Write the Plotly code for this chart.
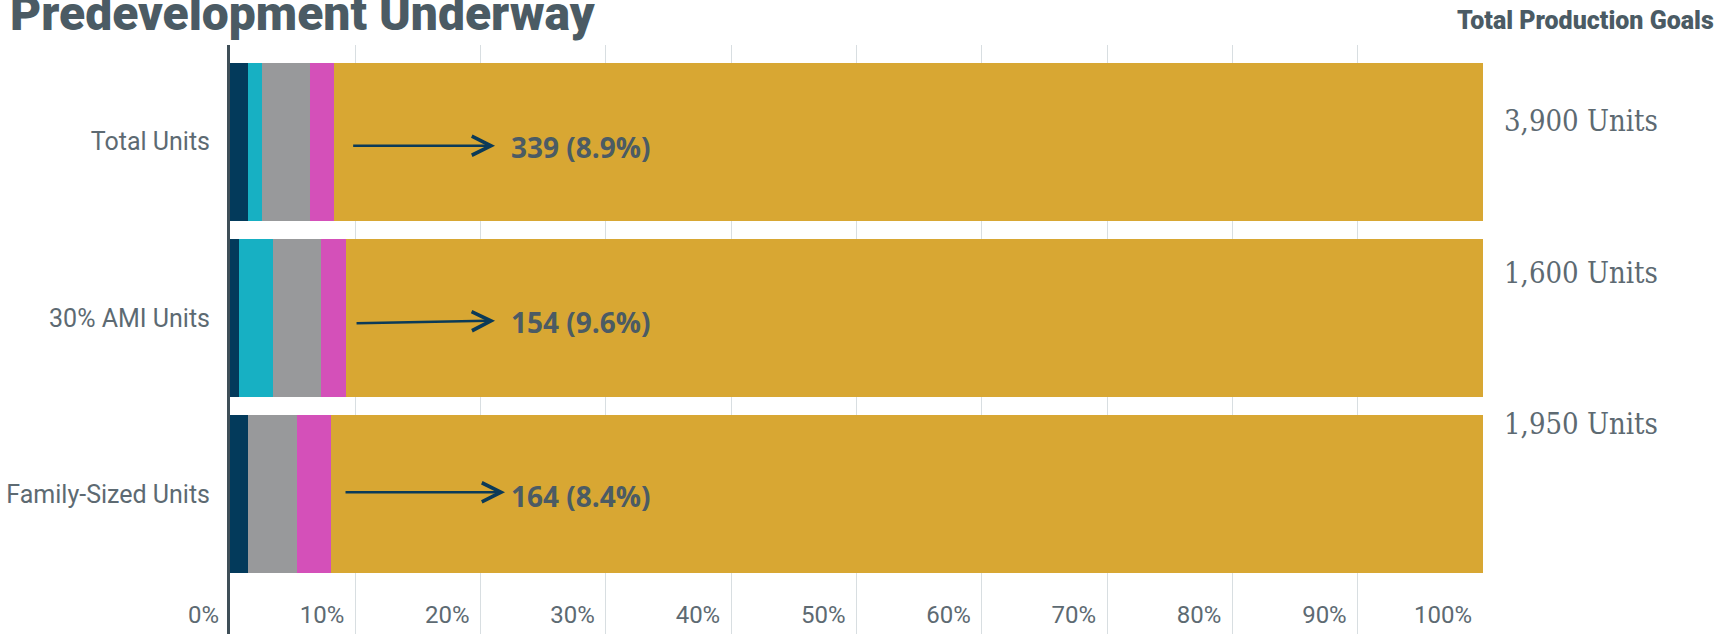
import plotly.graph_objects as go

# ---- data (percent of total production goal) ----
categories = ["Total Units", "30% AMI Units", "Family-Sized Units"]
seg_navy = [1.46, 0.72, 1.46]
seg_cyan = [1.07, 2.68, 0.0]
seg_gray = [3.85, 3.86, 3.86]
seg_pink = [1.94, 1.97, 2.71]
seg_remaining = [round(100 - a - b - c - d, 2) for a, b, c, d in zip(seg_navy, seg_cyan, seg_gray, seg_pink)]
value_labels = ["339 (8.9%)", "154 (9.6%)", "164 (8.4%)"]
goal_labels = ["3,900 Units", "1,600 Units", "1,950 Units"]
tick_values = [0, 10, 20, 30, 40, 50, 60, 70, 80, 90, 100]
tick_labels = ["0%", "10%", "20%", "30%", "40%", "50%", "60%", "70%", "80%", "90%", "100%"]

# ---- styling / layout constants ----
series = [
    ("Segment 1", seg_navy, "#033a5b"),
    ("Segment 2", seg_cyan, "#17b0c3"),
    ("Segment 3", seg_gray, "#98999b"),
    ("Segment 4", seg_pink, "#d450b9"),
    ("Remaining", seg_remaining, "#d8a733"),
]
arrow_tail_x = [9.71, 9.98, 9.10]
arrow_tail_y = [0.023, 1.030, 1.988]
arrow_tip_x = [21.15, 21.15, 21.95]
arrow_tip_y = [0.023, 1.015, 1.988]
label_x = 22.3
label_y = [0.029, 1.021, 2.009]
goal_y = [-0.117, 0.745, 1.598]

TEXT = "#4b5b64"
SOFT = "#5d6a72"
SANS = "Roboto, Lato, sans-serif"

fig = go.Figure()
for name, vals, col in series:
    fig.add_trace(go.Bar(
        y=categories, x=vals, name=name, orientation="h",
        marker=dict(color=col, line=dict(width=0)),
        hoverinfo="x+y",
    ))

annotations = []
for i in range(3):
    annotations.append(dict(
        x=arrow_tip_x[i], y=arrow_tip_y[i], ax=arrow_tail_x[i], ay=arrow_tail_y[i],
        xref="x", yref="y", axref="x", ayref="y", text="", showarrow=True,
        arrowhead=5, arrowsize=1.5, arrowwidth=2.5, arrowcolor="#0b3a58",
    ))
    annotations.append(dict(
        x=label_x, y=label_y[i], xref="x", yref="y", text=value_labels[i],
        showarrow=False, xanchor="left", yanchor="middle",
        font=dict(family="Open Sans, Roboto, sans-serif", size=28, color=TEXT, weight=700),
    ))
    annotations.append(dict(
        x=1.015, y=goal_y[i], xref="paper", yref="y", text=goal_labels[i],
        showarrow=False, xanchor="left", yanchor="middle",
        font=dict(family="DejaVu Serif Condensed, DejaVu Serif, serif", size=29, color=SOFT),
    ))

annotations.append(dict(
    x=-0.1772, y=1.0528, xref="paper", yref="paper", text="Predevelopment Underway",
    showarrow=False, xanchor="left", yanchor="middle",
    font=dict(family=SANS, size=48, color=TEXT, weight=900),
))
annotations.append(dict(
    x=1.186, y=1.0412, xref="paper", yref="paper", text="Total Production Goals",
    showarrow=False, xanchor="right", yanchor="middle",
    font=dict(family=SANS, size=25, color=TEXT, weight=900),
))

fig.update_layout(
    width=1735, height=634,
    margin=dict(l=230, r=252, t=45, b=0, pad=0, autoexpand=False),
    barmode="stack", bargap=0.104,
    showlegend=False,
    plot_bgcolor="white", paper_bgcolor="white",
    annotations=annotations,
    xaxis=dict(
        range=[0, 100], tickvals=tick_values, ticktext=tick_labels,
        showgrid=True, gridcolor="#d8dee1", gridwidth=1, zeroline=False,
        ticklabelposition="inside left", ticklabeloverflow="allow",
        ticklabelshift=-11, ticklabelstandoff=0,
        ticks="", showline=False, automargin=False,
        tickfont=dict(family=SANS, size=24, color=SOFT),
        fixedrange=True,
    ),
    yaxis=dict(
        categoryorder="array", categoryarray=categories,
        range=[2.791, -0.548],
        showgrid=False, zeroline=False,
        showline=True, linecolor="#3f4f58", linewidth=3,
        ticks="outside", ticklen=0, ticklabelstandoff=12, automargin=False,
        tickfont=dict(family=SANS, size=25, color=SOFT),
        fixedrange=True,
    ),
)

fig.write_html(
    "out.html",
    config={"displayModeBar": False},
    post_script="document.body.style.margin='0';document.body.style.overflow='hidden';",
)
